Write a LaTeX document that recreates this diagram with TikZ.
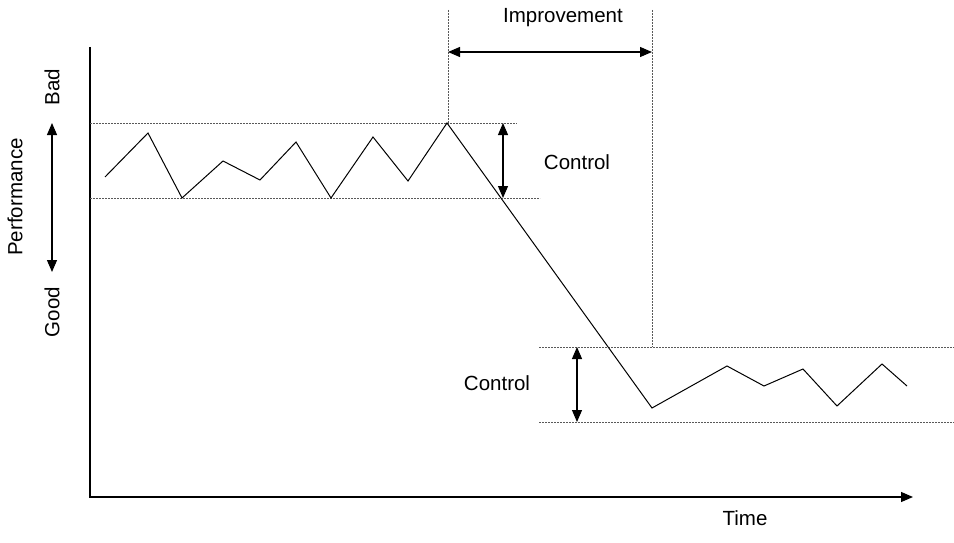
\documentclass[tikz,border=0pt]{standalone}
\usepackage{fontspec}
\setmainfont{Liberation Sans}
\usetikzlibrary{arrows.meta}
\begin{document}
\begin{tikzpicture}[x=1pt,y=-1pt,
  axis/.style={line width=1.2pt},
  trace/.style={line width=1pt, line join=miter},
  guide/.style={line width=1pt, black!65, dash pattern=on 2pt off 1pt},
  span/.style={line width=1.1pt, {Triangle[length=12pt,width=10pt]}-{Triangle[length=12pt,width=10pt]}},
  lbl/.style={font=\fontsize{20.5}{24}\selectfont, inner sep=0pt}]
\useasboundingbox (0,0) rectangle (954,543);

% axes
\coordinate (ytop) at (90,47);
\coordinate (xend) at (913,497);
\draw[axis,-{Triangle[length=12pt,width=10pt]}] (ytop) |- (xend);
\node[lbl] (time) at (745,518) {Time};

% performance scale on the left
\coordinate (bad) at (52,123);
\coordinate (good) at (52,272);
\draw[span] (bad) -- (good);
\node[lbl,rotate=90] (perf) at (15,197) {Performance};
\node[lbl,rotate=90] (badlbl) at (52,87) {Bad};
\node[lbl,rotate=90] (goodlbl) at (52,312) {Good};

% control band before the change
\coordinate (ua) at (90,123);  \coordinate (ub) at (517,123);
\coordinate (la) at (90,198);  \coordinate (lb) at (540,198);
\draw[guide] (ua) -- (ub);
\draw[guide] (la) -- (lb);
\coordinate (c1t) at (503,123); \coordinate (c1b) at (503,198);
\draw[span] (c1t) -- (c1b);
\node[lbl] (ctrl1) at (577,162) {Control};

% control band after the change
\coordinate (ua2) at (539,347); \coordinate (ub2) at (954,347);
\coordinate (la2) at (539,422); \coordinate (lb2) at (954,422);
\draw[guide] (ua2) -- (ub2);
\draw[guide] (la2) -- (lb2);
\coordinate (c2t) at (577,347); \coordinate (c2b) at (577,422);
\draw[span] (c2t) -- (c2b);
\node[lbl] (ctrl2) at (497,383) {Control};

% improvement span
\coordinate (ia) at (448,10);  \coordinate (ib) at (448,123);
\coordinate (ja) at (652,10);  \coordinate (jb) at (652,347);
\draw[guide] (ia) -- (ib);
\draw[guide] (ja) -- (jb);
\coordinate (il) at (448,52); \coordinate (ir) at (652,52);
\draw[span] (il) -- (ir);
\node[lbl] (impr) at (563,18) {Improvement};

% performance trace
\draw[trace] (105,177) -- (148,133) -- (182,198) -- (223,161) -- (260,180)
  -- (296,142) -- (331,198) -- (373,137) -- (408,181) -- (447,123)
  -- (652,408) -- (727,366) -- (764,386) -- (803,369) -- (837,406)
  -- (882,364) -- (907,386);
\end{tikzpicture}
\end{document}
